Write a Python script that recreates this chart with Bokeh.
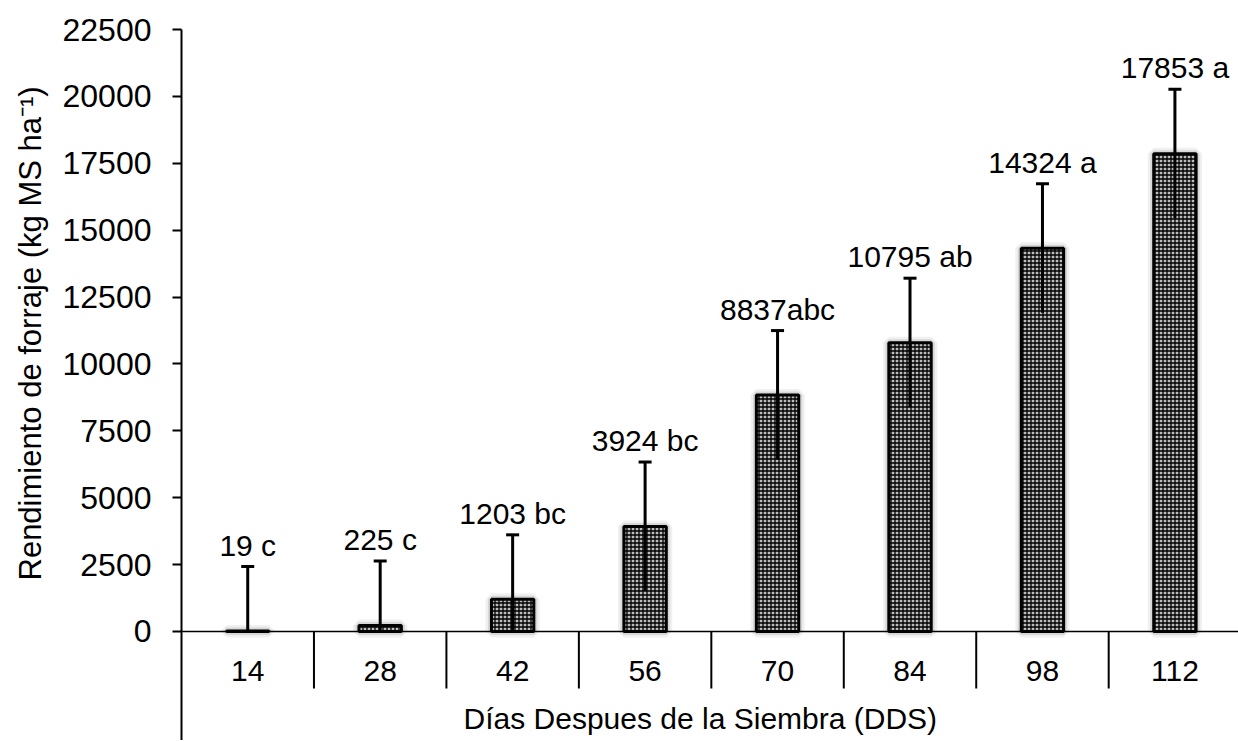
import math
from bokeh.plotting import figure
from bokeh.models import Range1d, FixedTicker, Span, Title, ColumnDataSource
from bokeh.core.properties import value
from bokeh.embed import file_html
from bokeh.resources import INLINE

# ---- data ----
days = ["14", "28", "42", "56", "70", "84", "98", "112"]
yield_kg = [19, 225, 1203, 3924, 8837, 10795, 14324, 17853]
std_err = [2410, 2410, 2410, 2410, 2410, 2410, 2410, 2410]
letters = [" c", " c", " bc", " bc", "abc", " ab", " a", " a"]
y_ticks = [0, 2500, 5000, 7500, 10000, 12500, 15000, 17500, 20000, 22500]

FONT = "Liberation Sans"
FS = "30px"

xs = [i + 1 for i in range(len(days))]
src = ColumnDataSource(dict(
    x=xs,
    top=yield_kg,
    lo=[max(0, v - e) for v, e in zip(yield_kg, std_err)],
    hi=[v + e for v, e in zip(yield_kg, std_err)],
    lab=[f"{v}{l}" for v, l in zip(yield_kg, letters)],
))

p = figure(width=1238, height=740, output_backend="svg", toolbar_location=None,
           x_range=Range1d(0.5, len(days) + 0.48),
           y_range=Range1d(-4074, 22500),
           x_axis_location=None, min_border_left=181, min_border_right=0,
           min_border_top=29, min_border_bottom=0)
p.outline_line_color = None
p.grid.visible = False
p.background_fill_color = "white"
p.border_fill_color = "white"

yax = p.yaxis[0]
yax.ticker = FixedTicker(ticks=y_ticks, minor_ticks=[])
yax.axis_line_width = 2
yax.axis_line_color = "black"
yax.major_tick_line_width = 2
yax.major_tick_line_color = "black"
yax.major_tick_out = 9
yax.major_tick_in = 0
yax.minor_tick_line_color = None
yax.major_label_standoff = 21
yax.major_label_text_font = FONT
yax.major_label_text_font_size = "32px"
yax.major_label_text_color = "black"

# y title (left side panel)
p.add_layout(Title(text="Rendimiento de forraje (kg MS ha⁻¹)", align="left",
                   vertical_align="top", offset=160, standoff=20, text_font=FONT,
                   text_font_size="31px", text_font_style="normal",
                   text_color="black"), "left")

# x axis baseline
p.add_layout(Span(location=0, dimension="width", line_color="black", line_width=1.5))

# category separators below the baseline
p.ray(x=[i + 0.5 for i in xs[:-1]], y=[0] * (len(xs) - 1), length=57,
      length_units="screen", angle=-math.pi / 2, line_color="black", line_width=2)

# category labels
p.text(x=xs, y=[0] * len(xs), text=days, y_offset=40, text_align="center",
       text_baseline="middle", text_font=value(FONT), text_font_size=FS,
       text_color="black")

# x title
p.text(x=[(len(days) + 1) / 2], y=[0], text=["Días Despues de la Siembra (DDS)"],
       x_offset=-11, y_offset=87, text_align="center", text_baseline="middle",
       text_font=value(FONT), text_font_size=FS, text_color="black")

# bar shadows
p.vbar(x="x", top="top", width=0.32, source=src, fill_color=None,
       line_color="black", line_alpha=0.06, line_width=12)
p.vbar(x="x", top="top", width=0.32, source=src, fill_color=None,
       line_color="black", line_alpha=0.1, line_width=7)

p.vbar(x="x", top="top", width=0.32, source=src, fill_color="#bdbdbd",
       line_color="black", line_width=3,
       hatch_pattern="cross", hatch_scale=4, hatch_weight=1.3,
       hatch_color="black")

# error bars
p.segment(x0="x", y0="lo", x1="x", y1="hi", source=src, line_color="black", line_width=3)
p.scatter(x="x", y="hi", source=src, marker="dash", size=13, line_color="black",
          line_width=3)

# value labels
p.text(x="x", y="hi", text="lab", source=src, y_offset=-5, text_align="center",
       text_baseline="bottom", text_font=value(FONT), text_font_size=FS,
       text_color="black")

open("out.html", "w").write(file_html(p, INLINE))
